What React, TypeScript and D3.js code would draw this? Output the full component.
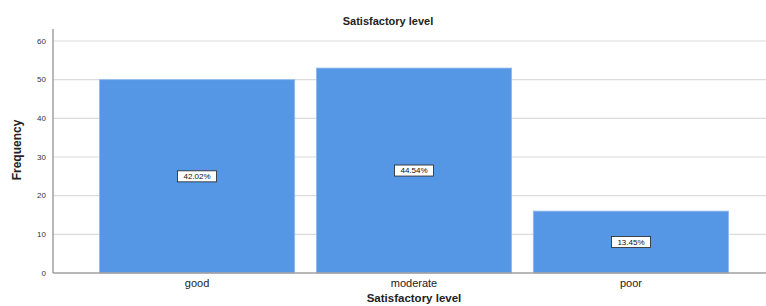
import { useEffect, useRef } from 'react';
import * as d3 from 'd3';

const categories = ['good', 'moderate', 'poor'];
const frequencies = [50, 53, 16];
const percentLabels = ['42.02%', '44.54%', '13.45%'];
const yTicks = [0, 10, 20, 30, 40, 50, 60];

const App = () => {
  const chartRef = useRef<SVGSVGElement>(null);

  useEffect(() => {
    drawChart();
  }, []);

  const drawChart = () => {
    const width = 766;
    const height = 306;
    const margin = { top: 29, right: -9, bottom: 33, left: 53 };
    const font = '"Liberation Sans", Arial, sans-serif';

    const svg = d3.select(chartRef.current);
    svg.selectAll('*').remove();

    const x = d3.scaleBand<string>()
      .domain(categories)
      .range([margin.left, width - margin.right])
      .paddingInner(0.1)
      .paddingOuter(0.214);

    const y = d3.scaleLinear()
      .domain([0, 60])
      .range([height - margin.bottom, 41]);

    // gridlines
    svg.append('g')
      .selectAll('line')
      .data(yTicks.filter(d => d > 0))
      .enter().append('line')
      .attr('x1', margin.left)
      .attr('x2', width)
      .attr('y1', d => y(d))
      .attr('y2', d => y(d))
      .attr('stroke', '#dcdcdc')
      .attr('stroke-width', 1.2);

    // bars
    svg.selectAll('.bar')
      .data(categories)
      .enter().append('rect')
      .attr('class', 'bar')
      .attr('x', d => x(d)!)
      .attr('y', (d, i) => y(frequencies[i]))
      .attr('width', x.bandwidth())
      .attr('height', (d, i) => y(0) - y(frequencies[i]))
      .attr('fill', '#5596e5')
      .attr('stroke', '#8fbaf0')
      .attr('stroke-width', 0.8);

    // axes lines
    svg.append('line')
      .attr('x1', margin.left).attr('x2', margin.left)
      .attr('y1', margin.top).attr('y2', y(0))
      .attr('stroke', '#a0a0a0').attr('stroke-width', 1.5);
    svg.append('line')
      .attr('x1', margin.left).attr('x2', width)
      .attr('y1', y(0)).attr('y2', y(0))
      .attr('stroke', '#a0a0a0').attr('stroke-width', 1.5);

    // y tick labels
    svg.append('g')
      .selectAll('text')
      .data(yTicks)
      .enter().append('text')
      .attr('x', 46)
      .attr('y', d => y(d))
      .attr('dy', '0.35em')
      .attr('text-anchor', 'end')
      .attr('font-family', font)
      .attr('font-size', 8)
      .attr('fill', '#333')
      .text(d => d);

    // category labels
    svg.append('g')
      .selectAll('text')
      .data(categories)
      .enter().append('text')
      .attr('x', d => x(d)! + x.bandwidth() / 2)
      .attr('y', 287)
      .attr('text-anchor', 'middle')
      .attr('font-family', font)
      .attr('font-size', 11)
      .attr('fill', '#222')
      .text(d => d);

    // percentage boxes
    const labels = svg.append('g')
      .selectAll('g')
      .data(categories)
      .enter().append('g')
      .attr('transform', (d, i) =>
        `translate(${x(d)! + x.bandwidth() / 2},${(y(0) + y(frequencies[i])) / 2})`);
    labels.append('rect')
      .attr('x', -19.5).attr('y', -5.5)
      .attr('width', 39).attr('height', 11)
      .attr('fill', '#fff')
      .attr('stroke', '#222')
      .attr('stroke-width', 0.8);
    labels.append('text')
      .attr('text-anchor', 'middle')
      .attr('dy', '0.35em')
      .attr('font-family', font)
      .attr('font-size', 8)
      .attr('fill', '#111')
      .text((d, i) => percentLabels[i]);

    // titles
    svg.append('text')
      .attr('x', 388).attr('y', 25)
      .attr('text-anchor', 'middle')
      .attr('font-family', font)
      .attr('font-size', 11)
      .attr('font-weight', 'bold')
      .attr('fill', '#222')
      .text('Satisfactory level');

    svg.append('text')
      .attr('x', (margin.left + width - margin.right) / 2).attr('y', 302)
      .attr('text-anchor', 'middle')
      .attr('font-family', font)
      .attr('font-size', 11.5)
      .attr('font-weight', 'bold')
      .attr('fill', '#222')
      .text('Satisfactory level');

    svg.append('text')
      .attr('transform', `translate(21,${150}) rotate(-90)`)
      .attr('text-anchor', 'middle')
      .attr('font-family', font)
      .attr('font-size', 12)
      .attr('font-weight', 'bold')
      .attr('fill', '#222')
      .text('Frequency');
  };

  return (
    <svg
      ref={chartRef}
      width={766}
      height={306}
      style={{ position: 'absolute', left: 0, top: 0, background: '#fff' }}
    />
  );
};

export default App;
